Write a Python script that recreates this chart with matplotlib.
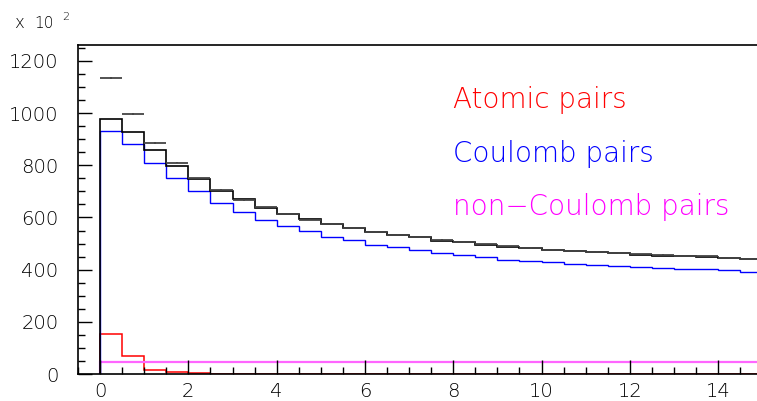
import numpy as np
import matplotlib
matplotlib.use('Agg')
import matplotlib.pyplot as plt
from matplotlib.ticker import MultipleLocator

# bin edges: 30 bins of width 0.5 from 0 to 15
edges = np.arange(0, 15.01, 0.5)

# contents in units of 10^2
coulomb = [932, 882, 810, 751, 700, 654, 622, 590, 567, 547, 527, 513, 496, 486, 477,
           464, 458, 449, 438, 435, 430, 423, 419, 415, 410, 406, 404, 401, 397, 392]
atomic = [154, 69, 17, 6, 2, 1, 0, 0, 0, 0, 0, 0, 0, 0, 0,
          0, 0, 0, 0, 0, 0, 0, 0, 0, 0, 0, 0, 0, 0, 0]
non_coulomb = [47] * 30
data = [1135, 996, 885, 810, 750, 705, 667, 639, 614, 592, 574, 559, 545, 534, 524,
        514, 505, 497, 490, 483, 477, 472, 468, 464, 459, 458, 454, 451, 446, 441]

background = np.array(coulomb) + np.array(non_coulomb)
centers = 0.5 * (edges[:-1] + edges[1:])

W, H = 757, 401
fig = plt.figure(figsize=(W / 100, H / 100), dpi=100)
ax = fig.add_axes([78 / W, 1 - 374 / H, 1 - 78 / W, (374 - 45) / H])

font = 'DejaVu Sans'
weight = 'light'

ax.stairs(atomic, edges, baseline=0, color='#ff0000', lw=1.1)
ax.stairs(non_coulomb, edges, baseline=0, color='#ff66ff', lw=1.6)
ax.stairs(coulomb, edges, baseline=0, color='#0000ff', lw=1.0)
ax.stairs(background, edges, baseline=0, color='black', lw=1.2)
ax.errorbar(centers, data, xerr=0.25, yerr=np.sqrt(np.array(data) * 100) / 100,
            fmt='none', ecolor='#444444', elinewidth=1.3, capsize=0)

ax.set_xlim(-0.5, 14.88)
ax.set_ylim(0, 1261)

ax.xaxis.set_major_locator(MultipleLocator(2))
ax.xaxis.set_minor_locator(MultipleLocator(0.5))
ax.yaxis.set_major_locator(MultipleLocator(200))
ax.yaxis.set_minor_locator(MultipleLocator(50))
ax.tick_params(which='both', direction='in', top=False, right=False, width=1.0)
ax.tick_params(which='major', length=10)
ax.tick_params(which='minor', length=5)
ax.tick_params(axis='y', which='major', pad=14)
ax.tick_params(axis='x', which='major', pad=6)
for lab in ax.get_xticklabels() + ax.get_yticklabels():
    lab.set_fontfamily(font)
    lab.set_fontweight(weight)
    lab.set_fontsize(14)
    lab.set_color('black')

for s in ['left', 'bottom', 'top']:
    ax.spines[s].set_linewidth(1.2)
ax.spines['right'].set_visible(False)

txt = dict(fontsize=20, family=font, weight=weight)
fig.text(453 / W, 1 - 108 / H, 'Atomic pairs', color='#ff0000', **txt)
fig.text(453 / W, 1 - 162 / H, 'Coulomb pairs', color='#0000ff', **txt)
fig.text(453 / W, 1 - 215 / H, 'non\u2212Coulomb pairs', color='#ff00ff', **txt)

fig.text(14 / W, 1 - 28 / H, 'x', fontsize=12, family=font, weight=weight, color='black')
fig.text(34 / W, 1 - 28 / H, '10', fontsize=11, family=font, weight=weight, color='black')
fig.text(62 / W, 1 - 20 / H, '2', fontsize=8, family=font, weight=weight, color='black')

fig.savefig('out.png', dpi=100)
